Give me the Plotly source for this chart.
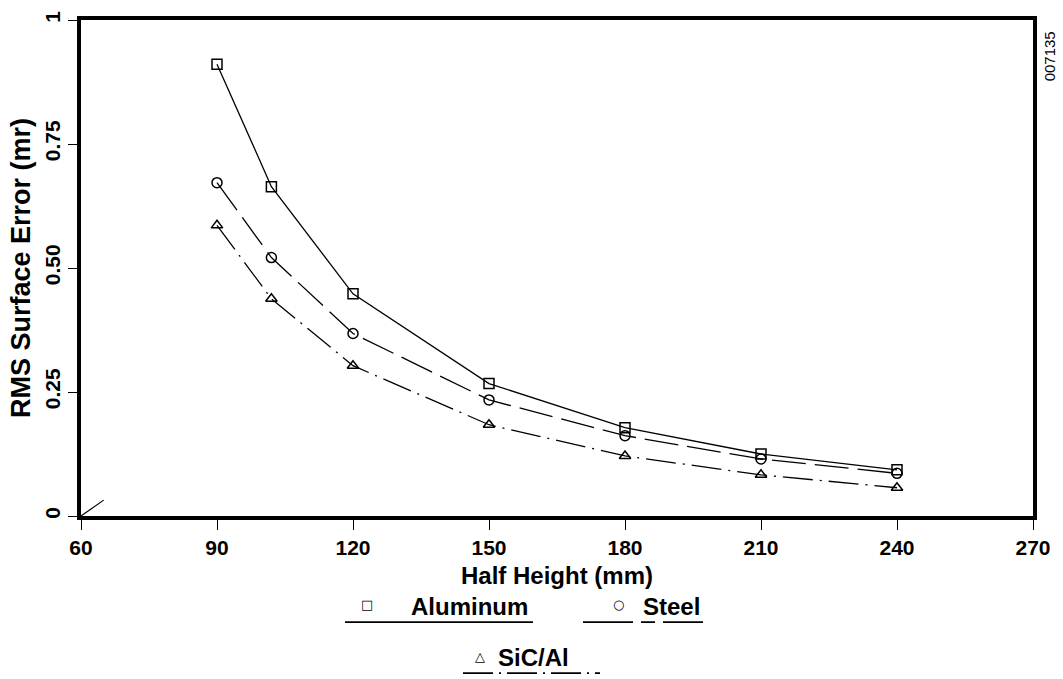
import plotly.graph_objects as go

half_height = [90, 102, 120, 150, 180, 210, 240]
aluminum = [0.911, 0.664, 0.448, 0.267, 0.178, 0.125, 0.093]
steel = [0.672, 0.521, 0.368, 0.234, 0.162, 0.115, 0.086]
sic_al = [0.586, 0.438, 0.303, 0.184, 0.121, 0.083, 0.057]

series_names = ["Aluminum", "Steel", "SiC/Al"]
x_ticks = [60, 90, 120, 150, 180, 210, 240, 270]
y_ticks = [0, 0.25, 0.5, 0.75, 1]
y_tick_labels = ["0", "0.25", "0.50", "0.75", "1"]

FONT = "Liberation Sans, Arial, sans-serif"
W, H = 1063, 679
L, R, T, B = 81, 30, 11, 163
PW, PH = W - L - R, H - T - B


def px(x):
    return (x - L) / PW


def py(y):
    return (H - B - y) / PH


fig = go.Figure()
styles = [("solid", "square-open", "\u25a1"),
          ("34px,9px", "circle-open", "\u25cb"),
          ("30px,7px,2px,7px", "triangle-up-open", "\u25b3")]
for name, vals, (dash, sym, _) in zip(series_names, [aluminum, steel, sic_al], styles):
    fig.add_trace(go.Scatter(
        x=half_height, y=vals, name=name, mode="lines+markers", showlegend=False,
        line=dict(color="black", width=1.3, dash=dash),
        marker=dict(symbol=sym, size=10, color="black", line=dict(width=1.5, color="black")),
    ))

# small corner stroke at the origin
fig.add_shape(type="line", xref="x", yref="y", x0=60, y0=0, x1=65, y1=0.032,
              line=dict(color="black", width=1.2))

# hand-drawn style legend below the axis title
legend_layout = [
    # (underline x0, x1, underline y, glyph x, glyph y, text x, text y)
    (345, 533, 624, 367, 606, 409, 608),
    (583, 703, 624, 618, 606, 641, 608),
    (463, 600, 676, 480, 659, 496, 660),
]
legend_dash = ["solid", "50px,8px,14px,8px", "30px,6px,2px,6px"]
for name, (_, _, glyph), ldash, (ux0, ux1, uy, gx, gy, tx, ty) in zip(
        series_names, styles, legend_dash, legend_layout):
    fig.add_shape(type="line", xref="paper", yref="paper",
                  x0=px(ux0), x1=px(ux1), y0=py(uy), y1=py(uy),
                  line=dict(color="black", width=1.6, dash=ldash))
    fig.add_annotation(text=glyph, xref="paper", yref="paper", x=px(gx), y=py(gy),
                       showarrow=False, xanchor="center", yanchor="middle",
                       font=dict(family="DejaVu Sans", size=13, color="black"))
    fig.add_annotation(text=name, xref="paper", yref="paper", x=px(tx), y=py(ty),
                       showarrow=False, xanchor="left", yanchor="middle",
                       font=dict(family=FONT, size=24, color="black", weight="bold"))

fig.add_annotation(text="007135", xref="paper", yref="paper", x=px(1049), y=py(48),
                   showarrow=False, textangle=-90, xanchor="center", yanchor="middle",
                   font=dict(family=FONT, size=15, color="black"))

fig.update_layout(
    width=W, height=H,
    margin=dict(l=L, r=R, t=T, b=B),
    paper_bgcolor="white", plot_bgcolor="white",
    font=dict(family=FONT, color="black", size=20),
    showlegend=False,
)
fig.update_xaxes(
    range=[60, 270], tickvals=x_ticks, ticks="outside", ticklen=10, tickwidth=1.3,
    tickcolor="black", showline=True, linewidth=3.5, linecolor="black", mirror=True,
    showgrid=False, zeroline=False,
    tickfont=dict(size=21, family=FONT, color="black", weight="bold"),
    title=dict(text="Half Height (mm)", font=dict(size=24, family=FONT, color="black", weight="bold"),
               standoff=10),
)
fig.update_yaxes(
    range=[0, 1], tickvals=y_ticks, ticktext=y_tick_labels, ticks="outside", ticklen=9,
    tickwidth=1.3, tickcolor="black", showline=True, linewidth=3.5, linecolor="black",
    mirror=True, showgrid=False, zeroline=False, tickangle=-90,
    tickfont=dict(size=21, family=FONT, color="black", weight="bold"),
    title=dict(text="RMS Surface Error (mr)", font=dict(size=27, family=FONT, color="black", weight="bold"),
               standoff=3),
)

fig.write_html("out.html")
